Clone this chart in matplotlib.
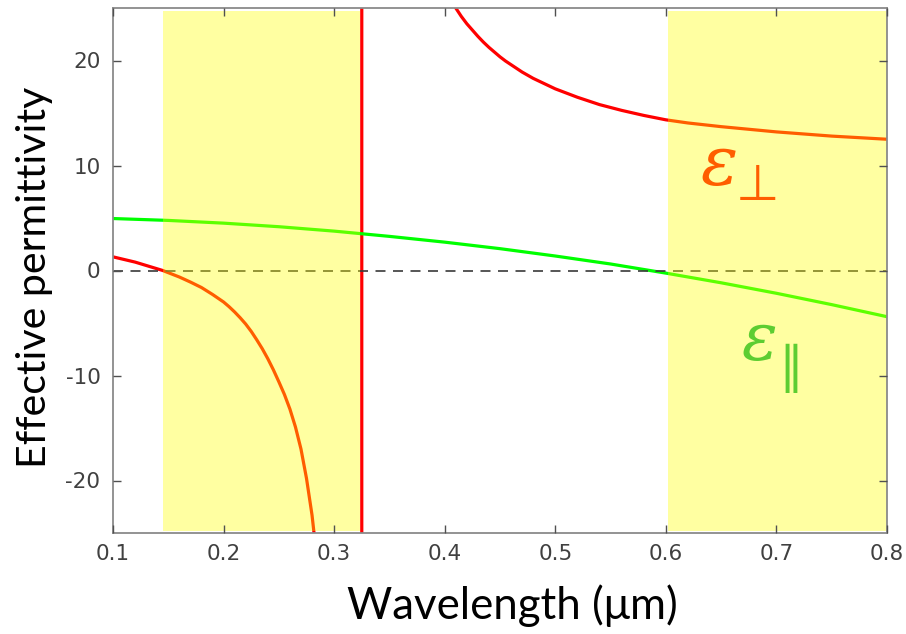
import matplotlib
matplotlib.use('Agg')
import matplotlib.pyplot as plt

# ---- data ----
x_perp = [0.100, 0.120, 0.145, 0.160, 0.170, 0.180, 0.190, 0.200, 0.205, 0.210,
          0.215, 0.220, 0.225, 0.230, 0.235, 0.240, 0.245, 0.250, 0.255, 0.260,
          0.265, 0.270, 0.275, 0.280, 0.285, 0.290, 0.300, 0.310, 0.320, 0.3249,
          0.3251, 0.330, 0.340, 0.350, 0.360, 0.380, 0.400, 0.410, 0.415, 0.420,
          0.425, 0.430, 0.435, 0.440, 0.445, 0.450, 0.455, 0.460, 0.465, 0.470,
          0.475, 0.480, 0.485, 0.490, 0.495, 0.500, 0.520, 0.540, 0.560, 0.580,
          0.600, 0.620, 0.650, 0.700, 0.750, 0.800]
eps_perp = [1.30, 0.80, 0.00, -0.62, -1.10, -1.62, -2.28, -3.00, -3.45, -3.95,
            -4.50, -5.10, -5.80, -6.60, -7.45, -8.40, -9.45, -10.6, -11.8, -13.2,
            -14.9, -17.0, -19.8, -23.3, -28.0, -33.0, -48.0, -85.0, -270.0, -1000.0,
            1000.0, 280.0, 100.0, 63.0, 48.0, 33.5, 26.8, 25.0, 24.2, 23.5,
            22.9, 22.3, 21.75, 21.25, 20.8, 20.35, 19.95, 19.6, 19.25, 18.9,
            18.6, 18.3, 18.05, 17.8, 17.55, 17.3, 16.5, 15.8, 15.25, 14.77,
            14.35, 14.05, 13.7, 13.2, 12.8, 12.5]

x_par = [0.10, 0.15, 0.20, 0.25, 0.30, 0.35, 0.40, 0.45, 0.50, 0.55,
         0.60, 0.65, 0.70, 0.75, 0.80]
eps_par = [4.95, 4.77, 4.51, 4.17, 3.75, 3.25, 2.70, 2.08, 1.38, 0.62,
           -0.25, -1.17, -2.17, -3.25, -4.40]

bands = [(0.145, 0.323), (0.602, 0.800)]

x_ticks = [0.1, 0.2, 0.3, 0.4, 0.5, 0.6, 0.7, 0.8]
x_tick_labels = ['0.1', '0.2', '0.3', '0.4', '0.5', '0.6', '0.7', '0.8']
y_ticks = [-20, -10, 0, 10, 20]
y_tick_labels = ['-20', '-10', '0', '10', '20']

# ---- figure ----
W, H = 906, 634
fig = plt.figure(figsize=(W / 100, H / 100), dpi=100)
ax = fig.add_axes([113 / W, 1 - 533 / H, (887 - 113) / W, (533 - 8) / H])

ax.plot(x_perp, eps_perp, color='#ff0000', lw=2.3, zorder=1)
ax.plot(x_par, eps_par, color='#00ff00', lw=2.3, zorder=1)
ax.axhline(0, color='#3a3a3a', lw=1.2, dashes=(6, 4.5), zorder=1)

for a, b in bands:
    ax.axvspan(a, b, ymin=0.004, ymax=0.995, facecolor='#ffff00', alpha=0.37,
               lw=0, zorder=2)

ax.set_xlim(0.1, 0.8)
ax.set_ylim(-25, 25)
ax.set_xticks(x_ticks, labels=x_tick_labels)
ax.set_yticks(y_ticks, labels=y_tick_labels)
ax.set_axisbelow(False)
ax.tick_params(direction='in', top=True, right=True, length=6, width=1.0,
               color='#505050', labelcolor='#404040', labelsize=15.5)
ax.tick_params(axis='x', pad=8)
ax.tick_params(axis='y', pad=9)
for lab in ax.get_xticklabels() + ax.get_yticklabels():
    lab.set_fontfamily('DejaVu Sans')
for s in ax.spines.values():
    s.set_color('#8a8a8a')
    s.set_linewidth(1.3)

ax.set_xlabel('Wavelength (μm)', fontsize=31.5, family='Lato', color='black')
ax.xaxis.set_label_coords(0.516, -0.097)
ax.set_ylabel('Effective permittivity', fontsize=29.5, family='Lato', color='black')
ax.yaxis.set_label_coords(-0.078, 0.487)

# curve labels (under the yellow overlay, like the reference)
tf = fig.transFigure
ax.text(700 / W, 1 - 185 / H, 'ε', transform=tf, fontsize=50, family='DejaVu Serif',
        style='italic', color='#ff0000', ha='left', va='baseline', zorder=1.5)
ax.text(736 / W, 1 - 200 / H, '⊥', transform=tf, fontsize=36, family='DejaVu Sans',
        color='#ff0000', ha='left', va='baseline', zorder=1.5)
ax.text(741 / W, 1 - 360 / H, 'ε', transform=tf, fontsize=48, family='DejaVu Serif',
        style='italic', color='#00b050', ha='left', va='baseline', zorder=1.5)
ax.text(778 / W, 1 - 382 / H, '∥', transform=tf, fontsize=36, family='DejaVu Sans',
        color='#00b050', ha='left', va='baseline', zorder=1.5)

fig.savefig('out.png', dpi=100)
